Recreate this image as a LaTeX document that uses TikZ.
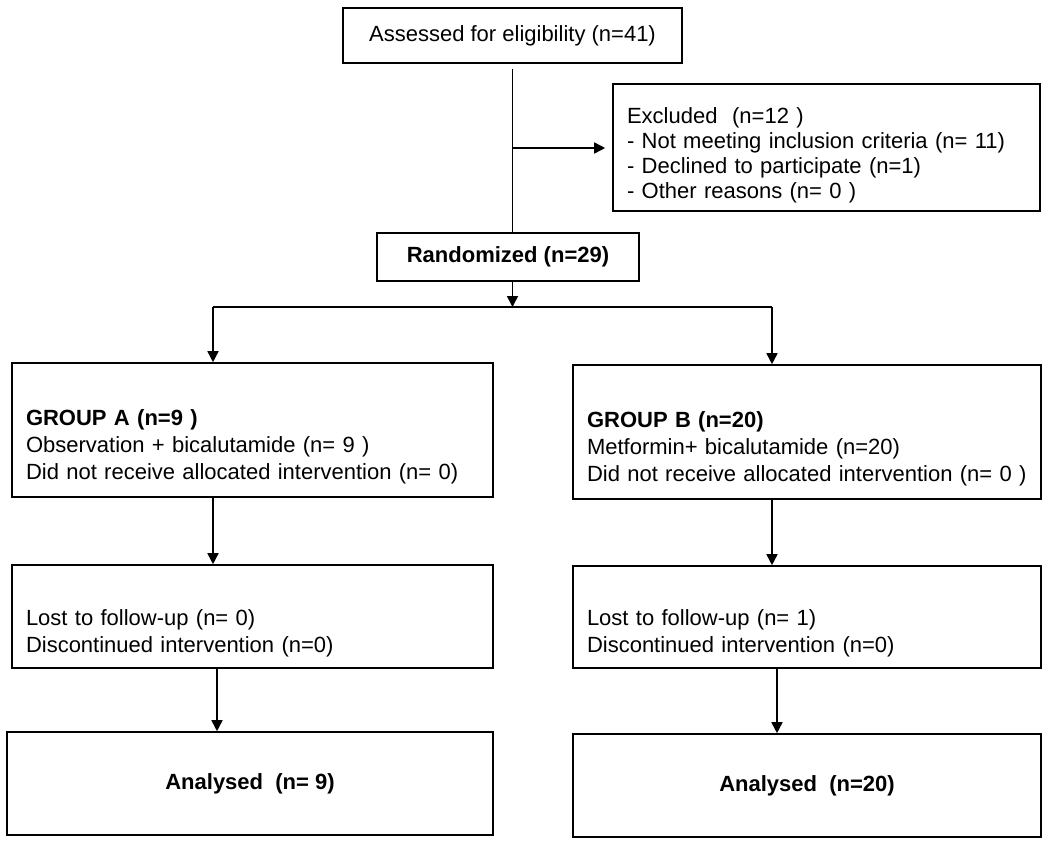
\documentclass[tikz,border=0pt]{standalone}
\usepackage{fontspec}
\setmainfont{Liberation Sans}
\usetikzlibrary{arrows.meta,positioning}
\tikzset{
  box/.style={draw=black,line width=1.6pt,inner xsep=14pt,inner ysep=0pt,
    font=\fontsize{22}{27}\selectfont},
  leftbox/.style={box,align=left},
  flow/.style={line width=1.6pt,-{Triangle[length=11pt,width=11pt]}},
  link/.style={line width=1.6pt}
}
\begin{document}
\begin{tikzpicture}[x=1pt,y=-1pt]
\useasboundingbox (0,0) rectangle (1050,844);
%boxes
\node[box,minimum width=339pt,minimum height=55pt] (assess) at (512.5,35.5) {Assessed for eligibility (n=41)};
\node[leftbox,text width=399pt,minimum height=127pt,font=\fontsize{22}{25}\selectfont] (excl) at (826.5,147.5)
  {\mbox{}\\[6pt]Excluded~ (n=12 )\\- Not meeting inclusion criteria (n= 11)\\- Declined to participate (n=1)\\- Other reasons (n= 0 )};
\node[box,minimum width=262pt,minimum height=48pt,font=\fontsize{22}{27}\selectfont\bfseries] (rand) at (508,257) {Randomized (n=29)};
\node[leftbox,text width=453pt,minimum height=134pt] (grpA) at (252.5,430)
  {\mbox{}\\[22pt]\textbf{GROUP A (n=9 )}\\Observation + bicalutamide (n= 9 )\\Did not receive allocated intervention (n= 0)};
\node[leftbox,text width=440pt,minimum height=134pt] (grpB) at (807,432)
  {\mbox{}\\[22pt]\textbf{GROUP B (n=20)}\\Metformin+ bicalutamide (n=20)\\Did not receive allocated intervention (n= 0 )};
\node[leftbox,text width=453pt,minimum height=103pt] (lostA) at (252.5,616.5)
  {\mbox{}\\[22pt]Lost to follow-up (n= 0)\\Discontinued intervention (n=0)};
\node[leftbox,text width=440pt,minimum height=102pt] (lostB) at (807,617)
  {\mbox{}\\[22pt]Lost to follow-up (n= 1)\\Discontinued intervention (n=0)};
\node[box,minimum width=486pt,minimum height=103pt,font=\fontsize{22}{27}\selectfont\bfseries] (anaA) at (250,783.5) {Analysed~ (n= 9)};
\node[box,minimum width=468pt,minimum height=103pt,font=\fontsize{22}{27}\selectfont\bfseries] (anaB) at (807,785.5) {Analysed~ (n=20)};
%connectors
\coordinate (split) at (512.5,148);
\coordinate (fork) at (512.5,307);
\coordinate (forkA) at (213,307);
\coordinate (forkB) at (772,307);
\coordinate (colA) at (217,0);
\coordinate (colB) at (777,0);
\draw[link,shorten <=5pt] (assess.south) -- (assess.south |- rand.north);
\draw[flow,shorten >=7pt] (split) -- (split -| excl.west);
\draw[flow] (fork |- rand.south) -- (fork);
\draw[link] (forkA) -- (forkB);
\draw[flow] (forkA) -- (forkA |- grpA.north);
\draw[flow] (forkB) -- (forkB |- grpB.north);
\draw[flow] (forkA |- grpA.south) -- (forkA |- lostA.north);
\draw[flow] (forkB |- grpB.south) -- (forkB |- lostB.north);
\draw[flow] (colA |- lostA.south) -- (colA |- anaA.north);
\draw[flow] (colB |- lostB.south) -- (colB |- anaB.north);
\end{tikzpicture}
\end{document}
